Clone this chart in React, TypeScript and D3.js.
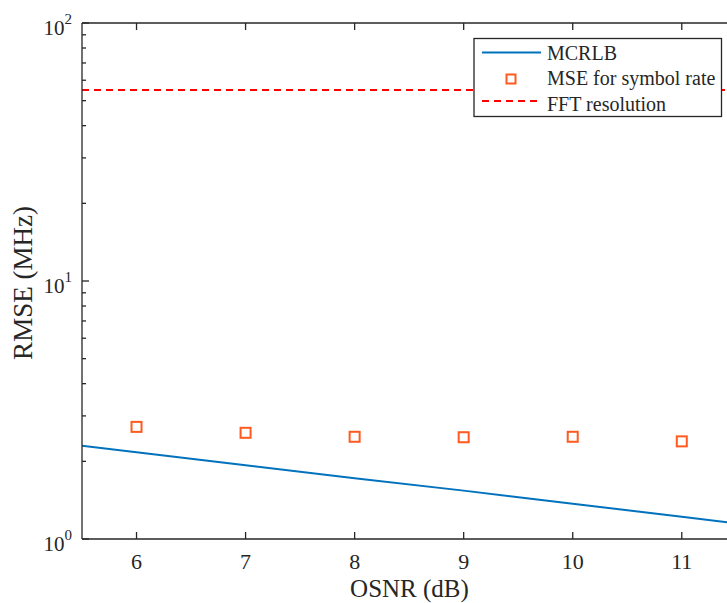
import React from "react";
import * as d3 from "d3";

const osnr = [6, 7, 8, 9, 10, 11];
const mseSymbolRate = [2.72, 2.58, 2.49, 2.48, 2.49, 2.39];
const mcrlbX = [5.5, 6, 7, 8, 9, 10, 11, 11.5];
const mcrlbY = [2.3, 2.17, 1.93, 1.72, 1.54, 1.37, 1.22, 1.15];
const fftResolution = 55;
const xTicks = [6, 7, 8, 9, 10, 11];
const yDecades = [1, 10, 100];
const legendLabels = ["MCRLB", "MSE for symbol rate", "FFT resolution"];

export default function App() {
  const W = 727, H = 603;
  const left = 82, top = 23, bottom = 539;
  const x = d3.scaleLinear().domain([5.5, 11.5]).range([left, 736.3]);
  const y = d3.scaleLog().domain([1, 100]).range([bottom, top]);
  const axisColor = "#262626";
  const font = "'Liberation Serif', 'Times New Roman', serif";
  const minor: number[] = [];
  for (let d = 1; d < 100; d *= 10) for (let k = 2; k <= 9; k++) minor.push(d * k);
  const line = d3.line<number>().x((_, i) => x(mcrlbX[i])).y((d) => y(d));
  const exps = ["0", "1", "2"];
  return (
    <svg width={W} height={H} style={{ position: "absolute", left: 0, top: 0, background: "#fff" }}>
      <defs>
        <clipPath id="plot">
          <rect x={left} y={top} width={W - left} height={bottom - top} />
        </clipPath>
      </defs>
      <rect x={0} y={0} width={W} height={H} fill="#fff" />
      <g clipPath="url(#plot)">
        <path d={line(mcrlbY) || ""} fill="none" stroke="#0072BD" strokeWidth={2} />
        <line x1={left} x2={W} y1={y(fftResolution)} y2={y(fftResolution)} stroke="#FF0000" strokeWidth={2} strokeDasharray="7,5" />
        {osnr.map((o, i) => (
          <rect key={o} x={x(o) - 5} y={y(mseSymbolRate[i]) - 5} width={10} height={10} fill="none" stroke="#FF5A1F" strokeWidth={2} />
        ))}
      </g>
      <line x1={left} x2={left} y1={top} y2={bottom} stroke={axisColor} strokeWidth={1.3} />
      <line x1={left} x2={W} y1={bottom} y2={bottom} stroke={axisColor} strokeWidth={1.3} />
      <line x1={left} x2={W} y1={top} y2={top} stroke={axisColor} strokeWidth={1.3} />
      {xTicks.map((t) => (
        <g key={t}>
          <line x1={x(t)} x2={x(t)} y1={bottom} y2={bottom - 7} stroke={axisColor} strokeWidth={1.3} />
          <line x1={x(t)} x2={x(t)} y1={top} y2={top + 7} stroke={axisColor} strokeWidth={1.3} />
          <text x={x(t)} y={bottom + 30} textAnchor="middle" fontFamily={font} fontSize={22} fill={axisColor}>{t}</text>
        </g>
      ))}
      {minor.map((m) => (
        <line key={m} x1={left} x2={left + 4} y1={y(m)} y2={y(m)} stroke={axisColor} strokeWidth={1.3} />
      ))}
      {yDecades.map((d, i) => (
        <g key={d}>
          <line x1={left} x2={left + 7} y1={y(d)} y2={y(d)} stroke={axisColor} strokeWidth={1.3} />
          <text x={left - 10} y={y(d) + 12} textAnchor="end" fontFamily={font} fontSize={21} fill={axisColor}>
            10<tspan dy={-11} fontSize={15}>{exps[i]}</tspan>
          </text>
        </g>
      ))}
      <text x={409.5} y={597} textAnchor="middle" fontFamily={font} fontSize={25} fill={axisColor}>OSNR (dB)</text>
      <text transform={`translate(32, ${(top + bottom) / 2 + 2}) rotate(-90)`} textAnchor="middle" fontFamily={font} fontSize={27} fill={axisColor}>RMSE (MHz)</text>
      <g>
        <rect x={474} y={38.5} width={247.5} height={78} fill="#fff" stroke={axisColor} strokeWidth={1.3} />
        <line x1={482} x2={541} y1={52.5} y2={52.5} stroke="#0072BD" strokeWidth={2} />
        <rect x={506.5} y={74.5} width={9} height={9} fill="none" stroke="#FF5A1F" strokeWidth={2} />
        <line x1={482} x2={541} y1={101} y2={101} stroke="#FF0000" strokeWidth={2} strokeDasharray="7,5" />
        {legendLabels.map((l, i) => (
          <text key={l} x={547} y={59.5 + i * 25.5} fontFamily={font} fontSize={20} fill={axisColor}>{l}</text>
        ))}
      </g>
    </svg>
  );
}
